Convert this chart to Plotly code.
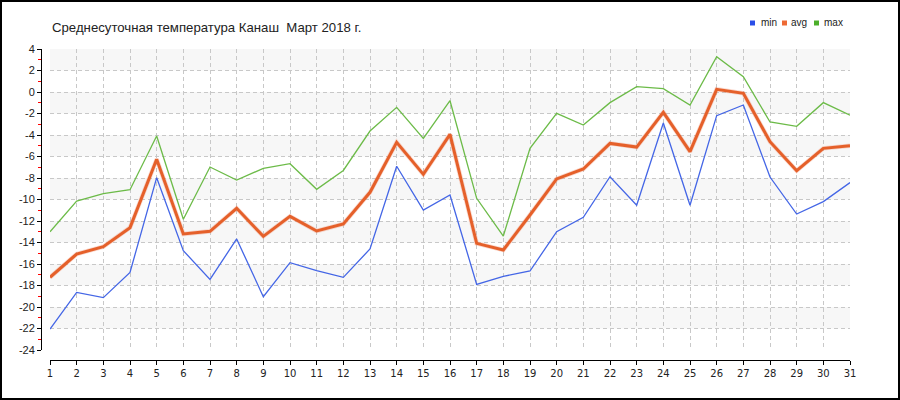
import plotly.graph_objects as go

days = list(range(1, 32))
t_min = [-22.05, -18.64, -19.13, -16.78, -7.97, -14.76, -17.43, -13.67, -19.04, -15.88,
         -16.62, -17.24, -14.6, -6.91, -10.98, -9.58, -17.89, -17.15, -16.65, -12.99,
         -11.66, -7.88, -10.54, -2.88, -10.54, -2.2, -1.21, -7.91, -11.35, -10.2, -8.43]
t_avg = [-17.24, -15.07, -14.39, -12.62, -6.26, -13.21, -12.96, -10.82, -13.43, -11.57,
         -12.93, -12.28, -9.33, -4.68, -7.66, -3.94, -14.08, -14.7, -11.44, -8.09,
         -7.16, -4.78, -5.12, -1.89, -5.55, 0.25, -0.12, -4.62, -7.32, -5.24, -4.99]
t_max = [-13.0, -10.14, -9.46, -9.09, -4.09, -11.84, -6.98, -8.19, -7.1, -6.67,
         -9.05, -7.3, -3.63, -1.43, -4.31, -0.81, -9.89, -13.4, -5.24, -1.98,
         -3.07, -0.99, 0.5, 0.31, -1.21, 3.29, 1.43, -2.79, -3.19, -0.99, -2.16]
y_ticks = list(range(-24, 5, 2))
y_labels = [str(v) for v in y_ticks]
title_text = "Среднесуточная температура Канаш\u00a0 Март 2018 г."
series_names = ["min", "avg", "max"]

W, H = 900, 400
ML, MR, MT, MB = 41, 50, 49, 40
PW, PH = W - ML - MR, H - MT - MB


def px(xp):
    return (xp - ML) / PW


def py(yp):
    return (H - MB - yp) / PH


C_MIN, C_AVG, C_MAX = "#4466e6", "#e5602a", "#6cbb48"

fig = go.Figure()
fig.add_trace(go.Scatter(x=days, y=t_min, mode="lines", line=dict(color=C_MIN, width=1.3),
                         showlegend=False, hoverinfo="skip"))
fig.add_trace(go.Scatter(x=days, y=t_max, mode="lines", line=dict(color=C_MAX, width=1.3),
                         showlegend=False, hoverinfo="skip"))
fig.add_trace(go.Scatter(x=days, y=t_avg, mode="lines",
                         line=dict(color="rgba(240,150,120,0.35)", width=4.5),
                         showlegend=False, hoverinfo="skip"))
fig.add_trace(go.Scatter(x=days, y=t_avg, mode="lines", line=dict(color=C_AVG, width=3),
                         showlegend=False, hoverinfo="skip"))

shapes = []
# alternating background bands
for top in range(4, -24, -4):
    shapes.append(dict(type="rect", xref="paper", yref="y", x0=px(50), x1=1,
                       y0=top - 2, y1=top, fillcolor="#f7f7f7", line_width=0, layer="below"))
# outer frame
shapes.append(dict(type="rect", xref="paper", yref="paper", x0=px(1), x1=px(899),
                   y0=py(399), y1=py(1), line=dict(color="black", width=2)))

# legend squares + labels
leg = [(750, "#2a4ee8", series_names[0], 759),
       (782, "#ee6a35", series_names[1], 789),
       (814, "#4caf2a", series_names[2], 822)]
annotations = []
for (sx, col, name, tx) in leg:
    shapes.append(dict(type="rect", xref="paper", yref="paper", x0=px(sx), x1=px(sx + 5),
                       y0=py(25.5), y1=py(20.5), fillcolor=col, line_width=0))
    annotations.append(dict(text=name, xref="paper", yref="paper", x=px(tx), y=py(22.5),
                            xanchor="left", yanchor="middle", showarrow=False,
                            font=dict(family="Liberation Sans", size=10, color="#222")))

annotations.append(dict(text=title_text, xref="paper", yref="paper", x=px(50), y=py(27),
                        xanchor="left", yanchor="middle", showarrow=False,
                        font=dict(family="Liberation Sans, Arial", size=13.2, color="#222")))

fig.update_layout(
    width=W, height=H, margin=dict(l=ML, r=MR, t=MT, b=MB),
    paper_bgcolor="white", plot_bgcolor="white",
    showlegend=False, shapes=shapes, annotations=annotations,
    xaxis=dict(range=[1, 31], domain=[px(50), 1], anchor="free", position=0,
               tickmode="array", tickvals=days, ticktext=[str(d) for d in days],
               showline=True, linecolor="black", linewidth=1,
               ticks="outside", ticklen=4, tickcolor="black",
               showgrid=True, gridcolor="#c8c8c8", griddash="4px,3px", gridwidth=1,
               zeroline=False, automargin=False,
               tickfont=dict(family="DejaVu Sans", size=10, color="#222")),
    yaxis=dict(range=[-24, 4], domain=[py(350), 1], anchor="free", position=0,
               tickmode="array", tickvals=y_ticks, ticktext=y_labels,
               showline=True, linecolor="black", linewidth=1,
               ticks="outside", ticklen=4, tickcolor="black",
               minor=dict(tickmode="linear", tick0=-23, dtick=2, ticks="outside", ticklen=3,
                          tickcolor="red", showgrid=False),
               showgrid=True, gridcolor="#c8c8c8", griddash="4px,3px", gridwidth=1,
               zeroline=False, automargin=False,
               tickfont=dict(family="Liberation Sans", size=11, color="#222")),
)

fig.write_html("out.html", config={"displayModeBar": False},
               post_script="document.body.style.margin='0';")
